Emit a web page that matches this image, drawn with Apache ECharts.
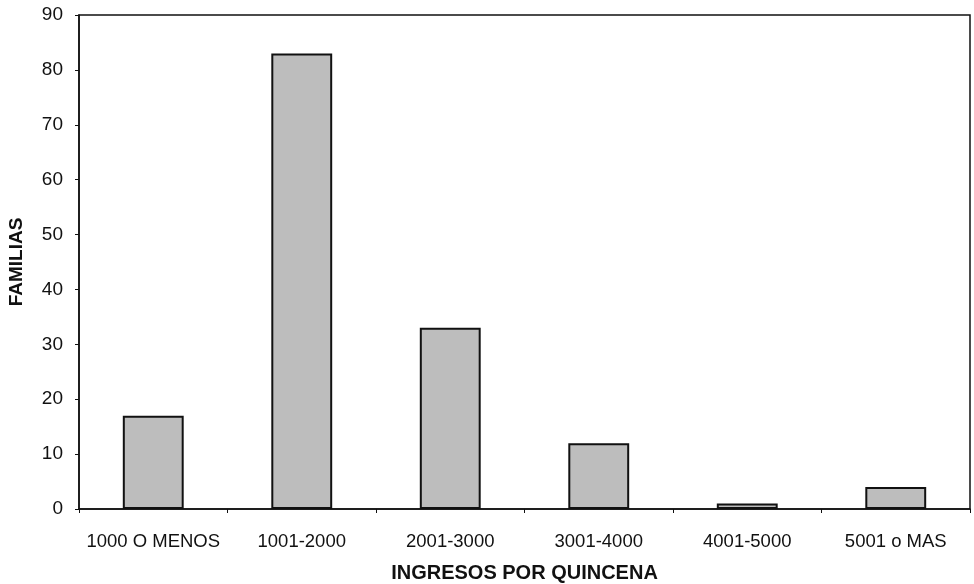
<!DOCTYPE html>
<html>
<head>
<meta charset="utf-8">
<script src="https://cdn.jsdelivr.net/npm/echarts@6/dist/echarts.min.js"></script>
<style>
  html, body { margin: 0; padding: 0; background: #fff; }
  #container { width: 974px; height: 584px; }
</style>
</head>
<body>
<div id="container"></div>
<script>
var categories = ["1000 O MENOS", "1001-2000", "2001-3000", "3001-4000", "4001-5000", "5001 o MAS"];
var familias = [17, 83, 33, 12, 1, 4];
var yTicks = [0, 10, 20, 30, 40, 50, 60, 70, 80, 90];

var myChart = echarts.init(document.getElementById("container"));
var option = {
  backgroundColor: "#ffffff",
  animation: false,
  grid: {
    left: 79,
    right: 4,
    top: 15,
    bottom: 75,
    outerBoundsMode: "none",
    show: true,
    borderColor: "#111",
    borderWidth: 1.5
  },
  xAxis: {
    type: "category",
    data: categories,
    name: "INGRESOS POR QUINCENA",
    nameLocation: "middle",
    nameGap: 54,
    nameTextStyle: { fontFamily: "Liberation Sans", fontWeight: "bold", fontSize: 20, color: "#111" },
    axisLine: { lineStyle: { color: "#111", width: 1.5 } },
    axisTick: { show: true, inside: false, length: 4, lineStyle: { color: "#111" } },
    axisLabel: { interval: 0, hideOverlap: false, fontFamily: "Liberation Sans", fontSize: 18.5, color: "#111", margin: 23 }
  },
  yAxis: {
    type: "value",
    min: yTicks[0],
    max: yTicks[yTicks.length - 1],
    interval: 10,
    name: "FAMILIAS",
    nameLocation: "middle",
    nameGap: 53,
    nameRotate: 90,
    nameTextStyle: { fontFamily: "Liberation Sans", fontWeight: "bold", fontSize: 19, color: "#111" },
    axisLine: { show: true, lineStyle: { color: "#111", width: 1.5 } },
    axisTick: { show: true, length: 4, lineStyle: { color: "#111" } },
    splitLine: { show: false },
    axisLabel: { fontFamily: "Liberation Sans", fontSize: 19, color: "#111", margin: 16 }
  },
  series: [
    {
      type: "bar",
      data: familias,
      barWidth: "41%",
      itemStyle: {
        color: "#bdbdbd",
        borderColor: "#111",
        borderWidth: 2
      }
    }
  ]
};
option && myChart.setOption(option);
</script>
</body>
</html>
